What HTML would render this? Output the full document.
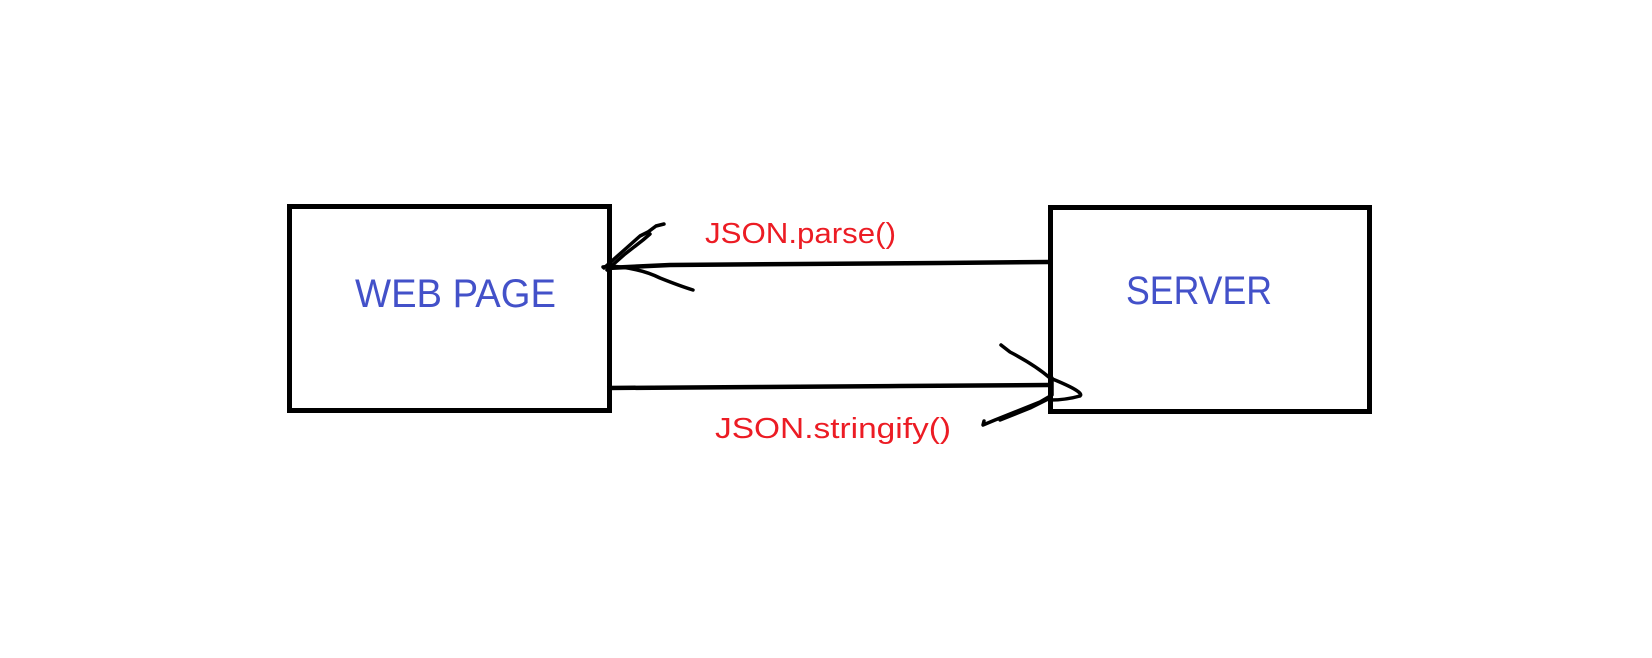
<!DOCTYPE html>
<html><head><meta charset="utf-8"><style>html,body{margin:0;padding:0;background:#fff;}svg{display:block}</style></head>
<body>
<svg width="1652" height="658" viewBox="0 0 1652 658" xmlns="http://www.w3.org/2000/svg">
<rect width="1652" height="658" fill="#fff"/>
<rect x="289.5" y="206.5" width="320" height="204" fill="none" stroke="#000" stroke-width="5"/>
<rect x="1050.5" y="207.5" width="319" height="204" fill="none" stroke="#000" stroke-width="5"/>
<polyline points="607,268 670,265 800,264 940,263 1048,262" fill="none" stroke="#000" stroke-width="4.5"/>
<polyline points="607,388 760,387 900,386 1048,385" fill="none" stroke="#000" stroke-width="4.5"/>
<g fill="none" stroke="#000" stroke-width="3.5" stroke-linecap="round" stroke-linejoin="round">
<path d="M604,268 L622,252 L640,236 L648,232 L656,226 L664,224"/>
<path d="M607,270 L625,254 L643,240 L650,234"/>
<path d="M603,267 L610,266 Q640,268 660,278 Q680,286 693,290"/>
<path d="M1001,345 L1010,352 Q1035,365 1050,378 Q1085,392 1080,396 Q1066,400 1050,400"/>
<path d="M1052,378 L1052,395 L1040,402 L1015,412 L995,420 L983,425 L984,421"/>
<path d="M1050,398 L1030,408 L1000,420"/>
</g>
<text x="355" y="307" font-family="Liberation Sans, sans-serif" font-size="40" fill="#4351c9" textLength="201" lengthAdjust="spacingAndGlyphs">WEB PAGE</text>
<text x="1126" y="304" font-family="Liberation Sans, sans-serif" font-size="40" fill="#4351c9" textLength="146" lengthAdjust="spacingAndGlyphs">SERVER</text>
<text x="705" y="243" font-family="Liberation Sans, sans-serif" font-size="29" fill="#ec1c24" textLength="191" lengthAdjust="spacingAndGlyphs">JSON.parse()</text>
<text x="715" y="438" font-family="Liberation Sans, sans-serif" font-size="29" fill="#ec1c24" textLength="236" lengthAdjust="spacingAndGlyphs">JSON.stringify()</text>
</svg>
</body></html>
